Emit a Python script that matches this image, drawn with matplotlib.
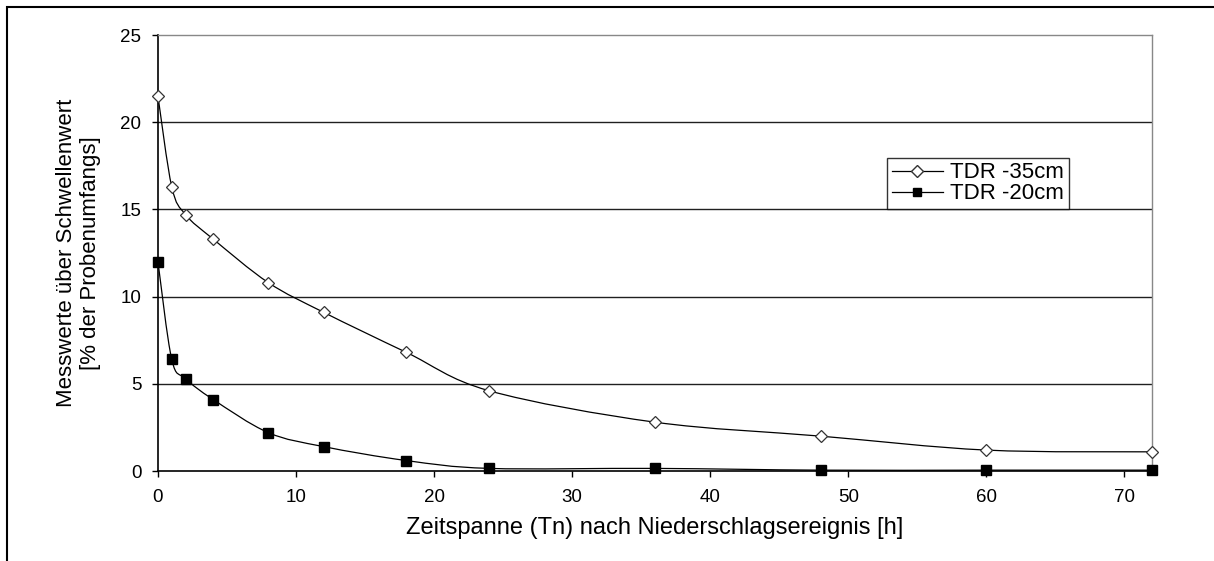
import numpy as np
import matplotlib.pyplot as plt
from matplotlib.path import Path
from matplotlib.patches import PathPatch, Rectangle
from matplotlib.lines import Line2D

plt.rcParams['font.family'] = ['Liberation Sans', 'DejaVu Sans']

# Zeit nach Niederschlag [h]
stunden = [0, 1, 2, 4, 8, 12, 18, 24, 36, 48, 60, 72]
# Messwerte ueber Schwellenwert [%]
tdr_35 = [21.5, 16.3, 14.7, 13.3, 10.8, 9.1, 6.8, 4.6, 2.8, 2.0, 1.2, 1.1]
tdr_20 = [12.0, 6.4, 5.3, 4.1, 2.2, 1.4, 0.6, 0.15, 0.15, 0.05, 0.05, 0.05]

x_ticks = [0, 10, 20, 30, 40, 50, 60, 70]
y_ticks = [0, 5, 10, 15, 20, 25]


def smooth_path(x, y):
    # Bezier-Glaettung wie in Excel (Catmull-Rom, Spannung 1/6)
    p = np.column_stack([x, y]).astype(float)
    n = len(p)
    verts = [p[0]]
    codes = [Path.MOVETO]
    for i in range(n - 1):
        p0 = p[i - 1] if i > 0 else p[i]
        p3 = p[i + 2] if i + 2 < n else p[i + 1]
        c1 = p[i] + (p[i + 1] - p0) / 6
        c2 = p[i + 1] - (p3 - p[i]) / 6
        verts += [c1, c2, p[i + 1]]
        codes += [Path.CURVE4] * 3
    return Path(verts, codes)


fig = plt.figure(figsize=(12.14, 5.61), dpi=100)
ax = fig.add_axes([0.1301, 0.1604, 0.8188, 0.7772])

# Rahmen um die Grafik
fig.patches.append(Rectangle((7 / 1214, -0.1), 1.2, (561 - 7) / 561 + 0.1,
                             transform=fig.transFigure, fill=False,
                             edgecolor='black', linewidth=1.5))

for v in [5, 10, 15, 20]:
    ax.axhline(v, color='#202020', linewidth=1.0, zorder=1)

for xs, ys in [(stunden, tdr_35), (stunden, tdr_20)]:
    ax.add_patch(PathPatch(smooth_path(xs, ys), facecolor='none',
                           edgecolor='black', linewidth=0.9, zorder=3))

ax.plot(stunden, tdr_35, linestyle='none', marker='D', markersize=6,
        markerfacecolor='white', markeredgecolor='#333333',
        markeredgewidth=0.9, zorder=4, clip_on=False)
ax.plot(stunden, tdr_20, linestyle='none', marker='s', markersize=7,
        markerfacecolor='black', markeredgecolor='black', zorder=4,
        clip_on=False)

ax.set_xlim(0, 72)
ax.set_ylim(0, 25)
ax.set_xticks(x_ticks)
ax.set_yticks(y_ticks)

for s in ['top', 'right']:
    ax.spines[s].set_color('#888888')
    ax.spines[s].set_linewidth(1.0)
for s in ['left', 'bottom']:
    ax.spines[s].set_color('black')
    ax.spines[s].set_linewidth(1.2)

ax.tick_params(axis='both', direction='out', length=4, width=1.0,
               labelsize=13.5)
ax.tick_params(axis='x', pad=9)
ax.tick_params(axis='y', pad=8)

ax.set_xlabel('Zeitspanne (Tn) nach Niederschlagsereignis [h]',
              fontsize=17, labelpad=8)
ax.set_ylabel('Messwerte über Schwellenwert\n[% der Probenumfangs]',
              fontsize=16, labelpad=14, linespacing=1.15)

handles = [
    Line2D([], [], color='black', linewidth=0.9, marker='D', markersize=6,
           markerfacecolor='white', markeredgecolor='#333333'),
    Line2D([], [], color='black', linewidth=0.9, marker='s', markersize=6,
           markerfacecolor='black'),
]
leg = ax.legend(handles, ['TDR -35cm', 'TDR -20cm'], loc='upper left',
                bbox_to_anchor=(0.7335, 0.718), fontsize=16, frameon=True,
                fancybox=False, edgecolor='black', handlelength=2.3,
                borderpad=0.2, labelspacing=0.0, handletextpad=0.35,
                borderaxespad=0.0)
leg.get_frame().set_linewidth(1.0)

fig.savefig('out.png', dpi=100)
